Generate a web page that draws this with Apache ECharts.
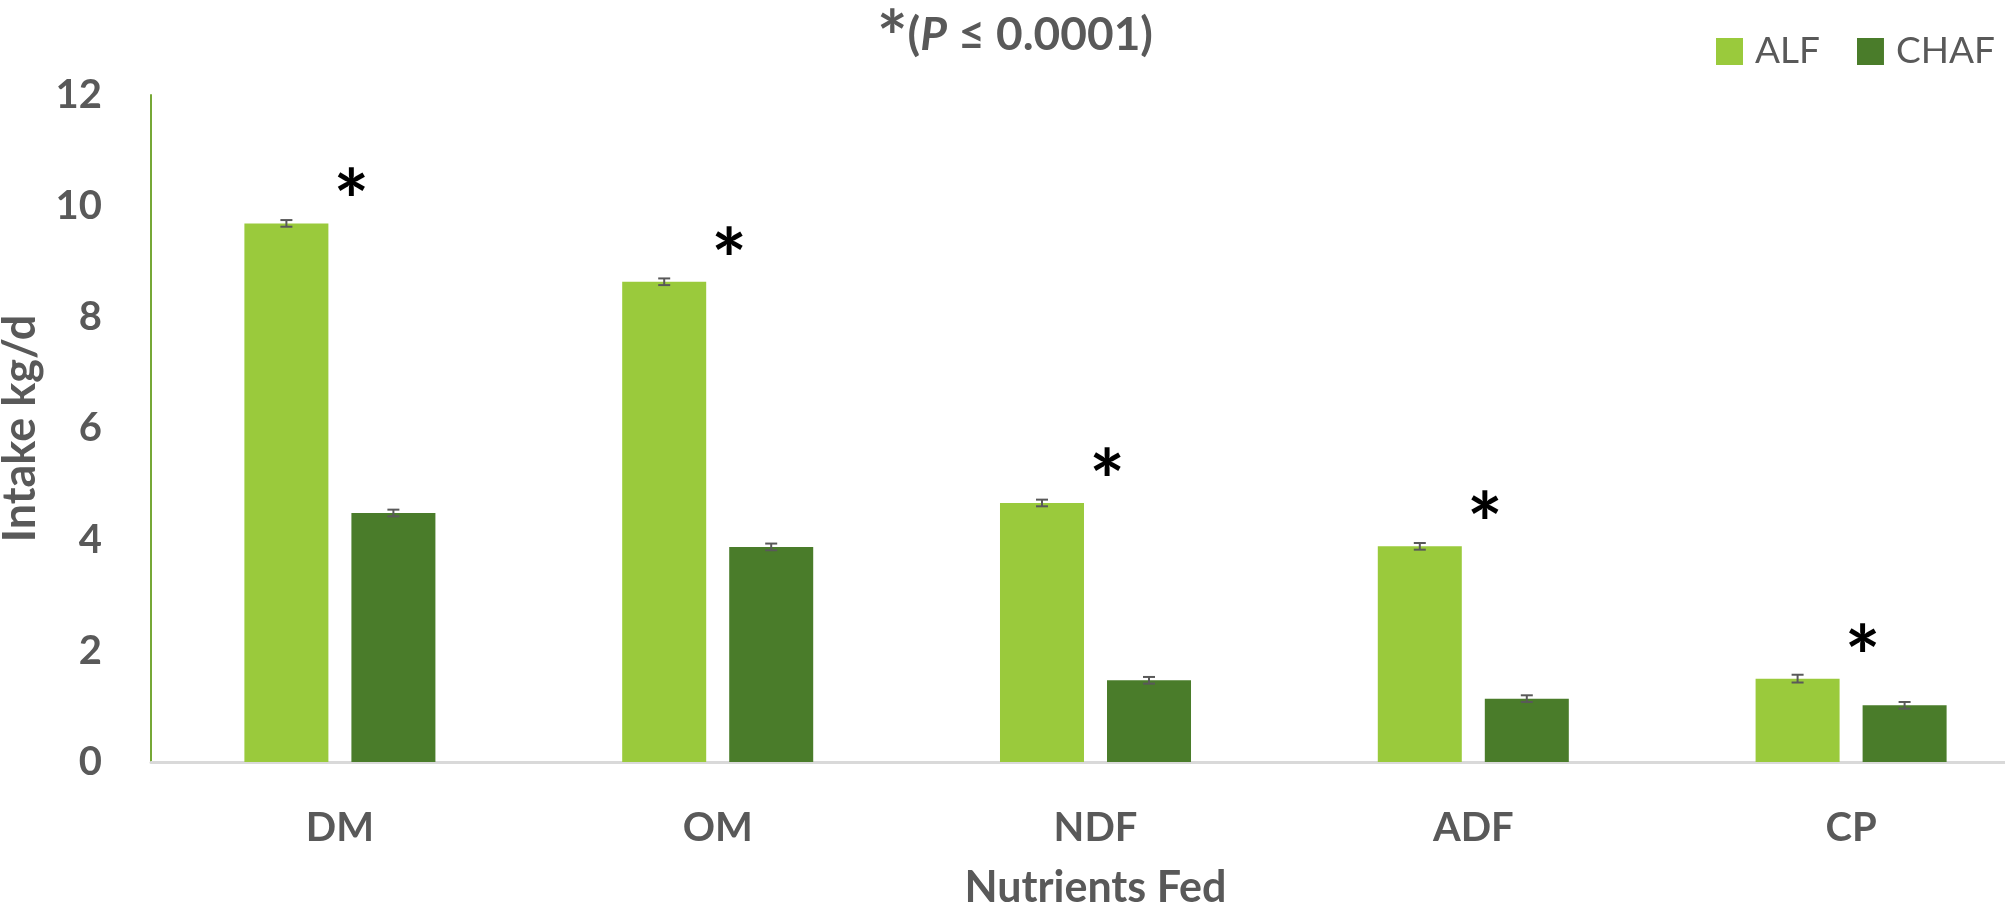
<!DOCTYPE html>
<html>
<head>
<meta charset="utf-8">
<style>
  html, body { margin: 0; padding: 0; background: #ffffff; }
  #chart { width: 2005px; height: 908px; }
</style>
<script src="https://cdn.jsdelivr.net/npm/echarts@6/dist/echarts.min.js"></script>
</head>
<body>
<div id="chart"></div>
<script>
// Nutrient intake (kg/d) by forage type, with SE bars
const categories = ['DM', 'OM', 'NDF', 'ADF', 'CP'];
const alfValues  = [9.69, 8.64, 4.66, 3.88, 1.50];
const chafValues = [4.48, 3.87, 1.47, 1.14, 1.02];
const alfErr     = [0.06, 0.06, 0.06, 0.06, 0.07];
const chafErr    = [0.06, 0.06, 0.06, 0.06, 0.06];
// significance markers placed beside each pair (P ≤ 0.0001)
const significance = ['*', '*', '*', '*', '*'];
const yTicks = [0, 2, 4, 6, 8, 10, 12];

const FONT = 'Lato, "Open Sans", sans-serif';
const GREY = '#595959';
const ALF_COLOR = '#9ACA3C';
const CHAF_COLOR = '#4A7C2A';
const BAR_W = 84;
const BAR_GAP = 23;
const HALF_STEP = (BAR_W + BAR_GAP) / 2;

function errorSeries(name, values, errs, dir) {
  return {
    type: 'custom',
    name: name + ' SE',
    z: 5,
    silent: true,
    data: values.map((v, i) => [i, v - errs[i], v + errs[i]]),
    renderItem: function (params, api) {
      const idx = api.value(0);
      const lo = api.coord([idx, api.value(1)]);
      const hi = api.coord([idx, api.value(2)]);
      const x = lo[0] + dir * HALF_STEP;
      const cap = 6;
      const style = { stroke: GREY, lineWidth: 2 };
      return {
        type: 'group',
        children: [
          { type: 'line', shape: { x1: x, y1: lo[1], x2: x, y2: hi[1] }, style: style },
          { type: 'line', shape: { x1: x - cap, y1: lo[1], x2: x + cap, y2: lo[1] }, style: style },
          { type: 'line', shape: { x1: x - cap, y1: hi[1], x2: x + cap, y2: hi[1] }, style: style }
        ]
      };
    }
  };
}

const chart = echarts.init(document.getElementById('chart'));
chart.setOption({
  backgroundColor: '#ffffff',
  animation: false,
  textStyle: { fontFamily: FONT },
  title: {
    left: 872,
    top: 0,
    text: '{ast|*}{b|(}{p|P}{b| ≤ 0.0001)}',
    textStyle: {
      rich: {
        ast: { fontSize: 72, fontWeight: 'bold', color: GREY, fontFamily: FONT, lineHeight: 60, verticalAlign: 'top' },
        b: { fontSize: 46, fontWeight: 'bold', color: GREY, fontFamily: FONT, lineHeight: 60 },
        p: { fontSize: 46, fontWeight: 'bold', fontStyle: 'italic', color: GREY, fontFamily: FONT, lineHeight: 60 }
      }
    }
  },
  legend: {
    left: 1711,
    top: 28,
    itemWidth: 27,
    itemHeight: 27,
    itemGap: 37,
    icon: 'rect',
    textStyle: { fontSize: 37, color: GREY, fontFamily: FONT, padding: [0, 0, 0, 7] },
    data: ['ALF', 'CHAF']
  },
  grid: { left: 151, right: -35, top: 95, bottom: 146, containLabel: false, outerBoundsMode: 'none' },
  xAxis: {
    type: 'category',
    data: categories,
    name: 'Nutrients Fed',
    nameLocation: 'middle',
    nameGap: 105,
    nameTextStyle: { fontSize: 43, fontWeight: 'bold', color: GREY, fontFamily: FONT },
    axisLine: { lineStyle: { color: '#d9d9d9', width: 3 } },
    axisTick: { show: false },
    axisLabel: { fontSize: 40, fontWeight: 'bold', color: GREY, margin: 46, fontFamily: FONT }
  },
  yAxis: {
    type: 'value',
    min: yTicks[0],
    max: yTicks[yTicks.length - 1],
    interval: yTicks[1] - yTicks[0],
    name: 'Intake kg/d',
    nameLocation: 'middle',
    nameGap: 108,
    nameTextStyle: { fontSize: 45, fontWeight: 'bold', color: GREY, fontFamily: FONT },
    axisLine: { show: true, lineStyle: { color: '#76a836', width: 2 } },
    axisTick: { show: false },
    splitLine: { show: false },
    axisLabel: { fontSize: 40, fontWeight: 'bold', color: GREY, margin: 49, fontFamily: FONT }
  },
  series: [
    {
      name: 'ALF',
      type: 'bar',
      data: alfValues,
      barWidth: BAR_W,
      barGap: (BAR_GAP / BAR_W * 100).toFixed(1) + '%',
      itemStyle: { color: ALF_COLOR },
      label: {
        show: true,
        position: 'top',
        distance: 0,
        offset: [65, 23],
        formatter: p => significance[p.dataIndex],
        fontSize: 84,
        fontWeight: 'bold',
        color: '#000000',
        fontFamily: FONT
      }
    },
    {
      name: 'CHAF',
      type: 'bar',
      data: chafValues,
      barWidth: BAR_W,
      itemStyle: { color: CHAF_COLOR }
    },
    errorSeries('ALF', alfValues, alfErr, -1),
    errorSeries('CHAF', chafValues, chafErr, 1)
  ]
});
</script>
</body>
</html>
